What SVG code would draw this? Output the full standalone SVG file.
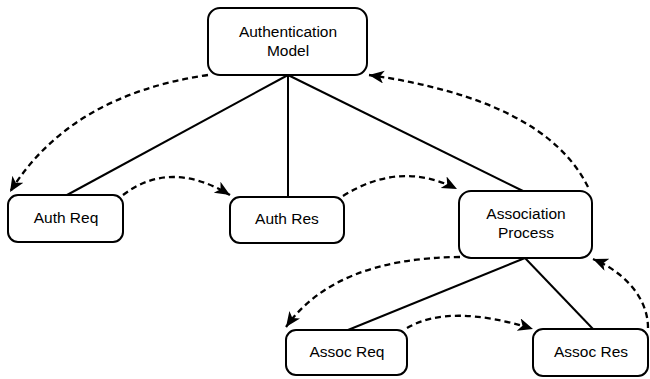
<svg xmlns="http://www.w3.org/2000/svg" width="650" height="379" viewBox="0 0 650 379">
<style>
.box{fill:#fff;stroke:#000;stroke-width:2}
.lbl{font-family:"Liberation Sans",Arial,sans-serif;font-size:15.5px;fill:#000;text-anchor:middle}
.edge{fill:none;stroke:#000;stroke-width:2}
.dash{fill:none;stroke:#000;stroke-width:2.3;stroke-dasharray:6 4;marker-end:url(#arr)}
</style>
<defs>
<marker id="arr" markerUnits="userSpaceOnUse" markerWidth="18" markerHeight="14" refX="15" refY="6.5" orient="auto" viewBox="0 0 18 14">
<path d="M0,0 L15,6.5 L0,13 L4,6.5 Z" fill="#000"/>
</marker>
</defs>
<g id="connectors">
<line class="edge" x1="288" y1="75" x2="67" y2="195"/>
<line class="edge" x1="288" y1="75" x2="288" y2="197"/>
<line class="edge" x1="288" y1="75" x2="523" y2="191"/>
<line class="edge" x1="525" y1="258" x2="348" y2="330"/>
<line class="edge" x1="525" y1="258" x2="593" y2="329"/>
<path class="dash" d="M208,75 Q70,95 10,192"/>
<path class="dash" d="M123,195 Q170,159 230,195"/>
<path class="dash" d="M343,196 Q400,160 457,189"/>
<path class="dash" d="M588,187 Q545,100 369,75"/>
<path class="dash" d="M460,257 Q335,258 286,327"/>
<path class="dash" d="M407,328 Q450,303 533,329"/>
<path class="dash" d="M648,328 C648,295 620,270 593,259"/>
</g>
<g id="auth-model">
<rect class="box" x="208" y="8" width="159" height="67" rx="12"/>
<text class="lbl" x="288" y="37">Authentication</text>
<text class="lbl" x="288" y="56">Model</text>
</g>
<g id="auth-req">
<rect class="box" x="8" y="195" width="115" height="47" rx="10"/>
<text class="lbl" x="66" y="223">Auth Req</text>
</g>
<g id="auth-res">
<rect class="box" x="230" y="197" width="114" height="46" rx="10"/>
<text class="lbl" x="287" y="224">Auth Res</text>
</g>
<g id="assoc-process">
<rect class="box" x="459" y="191" width="133" height="67" rx="12"/>
<text class="lbl" x="526" y="219">Association</text>
<text class="lbl" x="526" y="238">Process</text>
</g>
<g id="assoc-req">
<rect class="box" x="286" y="330" width="121" height="45" rx="10"/>
<text class="lbl" x="347" y="357">Assoc Req</text>
</g>
<g id="assoc-res">
<rect class="box" x="533" y="329" width="115" height="47" rx="10"/>
<text class="lbl" x="591" y="357">Assoc Res</text>
</g>
</svg>
